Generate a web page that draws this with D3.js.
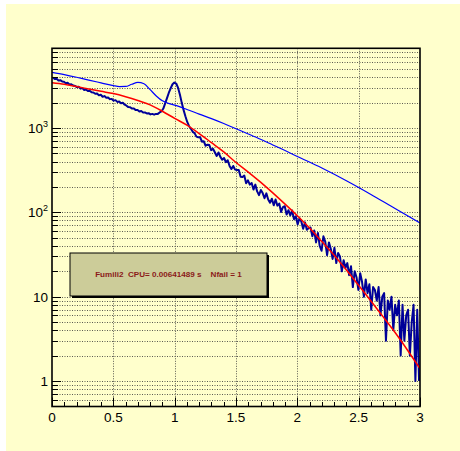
<!DOCTYPE html>
<html>
<head>
<meta charset="utf-8">
<script src="https://cdn.jsdelivr.net/npm/d3@7"></script>
<style>
  body { margin: 0; background: #ffffff; }
  svg { display: block; font-family: "Liberation Sans", Arial, sans-serif; }
</style>
</head>
<body>
<div id="chart"></div>
<script>
"use strict"

// axis ticks and labels
const xTicks = [0, 0.5, 1, 1.5, 2, 2.5, 3]
const xTickLabels = ["0", "0.5", "1", "1.5", "2", "2.5", "3"]
const yDecades = [1, 10, 100, 1000]
const yDecadeBase = ["1", "10", "10", "10"]
const yDecadeExp = ["", "", "2", "3"]

// histogram: 200 bins of width 0.015 from 0 to 3
const binStart = 0
const binWidth = 0.015
const histCounts = [
    3960, 3810, 3830, 3660, 3690, 3570, 3530, 3400, 3440, 3290,
    3300, 3190, 3150, 3060, 3080, 2930, 2970, 2830, 2860, 2740,
    2760, 2650, 2640, 2550, 2570, 2440, 2480, 2350, 2390, 2280,
    2300, 2200, 2210, 2110, 2140, 2040, 2060, 1970, 1990, 1890,
    1840, 1770, 1760, 1700, 1700, 1630, 1640, 1570, 1590, 1530,
    1530, 1490, 1500, 1450, 1470, 1440, 1470, 1470, 1530, 1570,
    1700, 1960, 2260, 2620, 2960, 3300, 3460, 3370, 3010, 2500,
    2000, 1640, 1380, 1180, 1050, 980, 900, 870, 790, 775,
    777, 689, 695, 616, 634, 627, 546, 567, 515, 466,
    513, 454, 421, 441, 393, 414, 355, 326, 355, 321,
    318, 318, 264, 262, 273, 221, 240, 213, 223, 186,
    213, 177, 160, 184, 169, 147, 168, 142, 130, 145,
    121, 142, 120, 127, 101, 115, 118, 94, 106, 92,
    105, 83, 90, 72, 85, 78, 64, 76, 62, 65,
    66, 52, 61, 44, 57, 40, 35, 52, 45, 31,
    44, 37, 28, 38, 25, 33, 30, 20, 27, 22,
    25, 18, 23, 13, 20, 17, 12, 19, 15, 10,
    16, 11, 14, 7, 13, 12, 9, 13, 6, 10,
    11, 3, 9, 7, 10, 4, 8, 6, 9, 2,
    8, 3, 6, 7, 2, 5, 8, 1, 7, 1
]

// fitted function (red)
const fitX = [0, 0.1, 0.2, 0.3, 0.4, 0.5, 0.6, 0.7, 0.8, 0.9, 1.0, 1.1, 1.2, 1.3, 1.4, 1.5,
    1.6, 1.7, 1.8, 1.9, 2.0, 2.1, 2.2, 2.3, 2.4, 2.5, 2.6, 2.7, 2.8, 2.9, 3.0]
const fitY = [3445, 3300, 3100, 2900, 2720, 2560, 2350, 2120, 1880, 1580, 1300, 1080, 860, 670, 520, 390,
    300, 228, 170, 125, 91, 65, 45, 31, 20.7, 13.6, 8.9, 5.75, 3.7, 2.3, 1.4]

// starting function (blue)
const startX = [0, 0.1, 0.2, 0.3, 0.4, 0.5, 0.55, 0.6, 0.65, 0.7, 0.75, 0.8, 0.85, 0.9, 0.95, 1.0,
    1.1, 1.2, 1.3, 1.4, 1.5, 1.6, 1.7, 1.8, 1.9, 2.0, 2.2, 2.4, 2.6, 2.8, 3.0]
const startY = [4580, 4300, 4000, 3700, 3430, 3180, 3100, 3110, 3300, 3470, 3350, 2850, 2400, 2100, 1960, 1870,
    1660, 1460, 1290, 1130, 980, 850, 735, 630, 540, 460, 335, 237, 163, 110, 75]

const infoText = "Fumili2  CPU= 0.00641489 s    Nfail = 1"

// frame position
const WIDTH = 460, HEIGHT = 451
const FRAME = { left: 52, right: 420, top: 48.3, bottom: 406.5 }

const svg = d3.select("#chart").append("svg")
    .attr("width", WIDTH).attr("height", HEIGHT)

// pad background
svg.append("rect").attr("x", 6).attr("y", 4)
    .attr("width", WIDTH - 6).attr("height", HEIGHT - 4)
    .attr("fill", "#ffffcc")

const xScale = d3.scaleLinear().domain([0, 3]).range([FRAME.left, FRAME.right])
const yScale = d3.scaleLog().domain([0.498, 8815]).range([FRAME.bottom, FRAME.top])

// log ticks: decades plus 2..9 subdivisions
let minorVals = []
for (let k = -1; k <= 3; k++) {
    for (let m = 2; m <= 9; m++) {
        let v = m * Math.pow(10, k)
        if (v > yScale.domain()[0] && v < yScale.domain()[1]) minorVals.push(v)
    }
}

const grid = svg.append("g").attr("stroke", "#333").attr("stroke-width", 1)
    .attr("stroke-dasharray", "1,1.5").attr("opacity", 0.8)

grid.selectAll(".gy").data(yDecades.concat(minorVals)).join("line")
    .attr("x1", FRAME.left).attr("x2", FRAME.right)
    .attr("y1", d => Math.round(yScale(d)) + 0.5).attr("y2", d => Math.round(yScale(d)) + 0.5)

grid.selectAll(".gx").data(xTicks.slice(1, -1)).join("line")
    .attr("x1", d => Math.round(xScale(d)) + 0.5).attr("x2", d => Math.round(xScale(d)) + 0.5)
    .attr("y1", FRAME.top).attr("y2", FRAME.bottom)

// clip everything to the frame
svg.append("clipPath").attr("id", "frameClip").append("rect")
    .attr("x", FRAME.left).attr("y", FRAME.top)
    .attr("width", FRAME.right - FRAME.left).attr("height", FRAME.bottom - FRAME.top)

const plot = svg.append("g").attr("clip-path", "url(#frameClip)")

// histogram drawn through bin centres
let histPoints = histCounts.map((c, i) => ({ x: binStart + (i + 0.5) * binWidth, v: c }))

const histGen = d3.line().x(d => xScale(d.x)).y(d => yScale(d.v))
plot.append("path").attr("d", histGen(histPoints))
    .attr("fill", "none").attr("stroke", "#000099").attr("stroke-width", 2)
    .attr("stroke-linejoin", "round")

const curveGen = d3.line().x(d => xScale(d[0])).y(d => yScale(d[1])).curve(d3.curveMonotoneX)

plot.append("path").attr("d", curveGen(d3.zip(startX, startY)))
    .attr("fill", "none").attr("stroke", "#0000ff").attr("stroke-width", 1.2)

plot.append("path").attr("d", curveGen(d3.zip(fitX, fitY)))
    .attr("fill", "none").attr("stroke", "#ff0000").attr("stroke-width", 1.5)

// y axis ticks
const yAxis = svg.append("g").attr("stroke", "#000").attr("stroke-width", 1)
yAxis.selectAll(".maj").data(yDecades).join("line")
    .attr("x1", FRAME.left).attr("x2", FRAME.left + 9)
    .attr("y1", d => Math.round(yScale(d)) + 0.5).attr("y2", d => Math.round(yScale(d)) + 0.5)
yAxis.selectAll(".min").data(minorVals).join("line")
    .attr("x1", FRAME.left).attr("x2", FRAME.left + 6)
    .attr("y1", d => Math.round(yScale(d)) + 0.5).attr("y2", d => Math.round(yScale(d)) + 0.5)

// x axis ticks, minor every 0.1
let xMinor = d3.range(0, 31).map(i => i / 10).filter(v => xTicks.indexOf(v) < 0)
const xAxis = svg.append("g").attr("stroke", "#000").attr("stroke-width", 1)
xAxis.selectAll(".maj").data(xTicks).join("line")
    .attr("x1", d => Math.round(xScale(d)) + 0.5).attr("x2", d => Math.round(xScale(d)) + 0.5)
    .attr("y1", FRAME.bottom).attr("y2", FRAME.bottom - 9)
xAxis.selectAll(".min").data(xMinor).join("line")
    .attr("x1", d => Math.round(xScale(d)) + 0.5).attr("x2", d => Math.round(xScale(d)) + 0.5)
    .attr("y1", FRAME.bottom).attr("y2", FRAME.bottom - 4.5)

// frame
svg.append("rect").attr("x", FRAME.left).attr("y", FRAME.top)
    .attr("width", FRAME.right - FRAME.left).attr("height", FRAME.bottom - FRAME.top)
    .attr("fill", "none").attr("stroke", "#000").attr("stroke-width", 1.6)

// tick labels
svg.append("g").selectAll("text").data(xTicks).join("text")
    .attr("x", d => xScale(d)).attr("y", 422)
    .attr("text-anchor", "middle").attr("font-size", 13.5).attr("fill", "#000")
    .text((d, i) => xTickLabels[i])

const yLabels = svg.append("g").selectAll("text").data(yDecades).join("text")
    .attr("x", 48).attr("y", d => yScale(d) + 5)
    .attr("text-anchor", "end").attr("font-size", 13.5).attr("fill", "#000")
yLabels.append("tspan").text((d, i) => yDecadeBase[i])
yLabels.append("tspan").attr("font-size", 9).attr("dy", -6).text((d, i) => yDecadeExp[i])

// info pave with shadow
const pave = { x: 70, y: 253, w: 197, h: 43 }
svg.append("rect").attr("x", pave.x + 2).attr("y", pave.y + 2)
    .attr("width", pave.w).attr("height", pave.h).attr("fill", "#000")
svg.append("rect").attr("x", pave.x).attr("y", pave.y)
    .attr("width", pave.w).attr("height", pave.h)
    .attr("fill", "#cccc99").attr("stroke", "#000").attr("stroke-width", 1)
svg.append("text").attr("x", pave.x + pave.w / 2).attr("y", pave.y + pave.h / 2 + 2.9)
    .attr("text-anchor", "middle").attr("font-size", 8.1).attr("font-weight", "bold")
    .attr("fill", "#8b1a1a")
    .text(infoText.replace(/ /g, "\u00a0"))
</script>
</body>
</html>
